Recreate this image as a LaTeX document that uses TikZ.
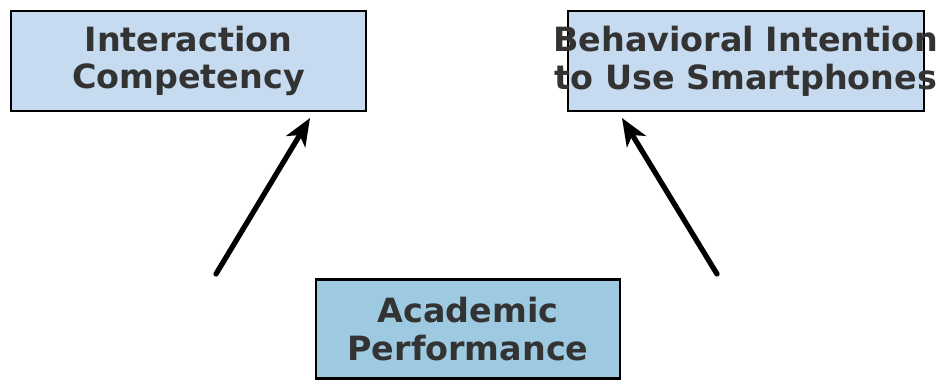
\documentclass[tikz,border=0pt]{standalone}
\usepackage{fontspec}
\setmainfont{DejaVu Sans}
\usepackage{xcolor}
\usetikzlibrary{arrows.meta,positioning}
\definecolor{ink}{HTML}{000000}
\definecolor{textgray}{HTML}{333333}
\definecolor{paleblue}{HTML}{C6DBEF}
\definecolor{midblue}{HTML}{9ECAE1}
\tikzset{
  factorbox/.style={draw=ink,fill=paleblue,line width=1.6pt,
                    minimum width=7.1cm,minimum height=2.0cm,
                    align=center,text=textgray,inner sep=0pt,
                    font=\fontsize{19}{21.5}\selectfont\bfseries},
  outcomebox/.style={factorbox,fill=midblue,minimum width=6.08cm},
  linkarr/.style={-{Stealth[length=5.5mm,width=4.4mm,inset=1.5mm]},
                  line width=3pt,color=ink,line cap=round}
}

\begin{document}
\begin{tikzpicture}[x=0.02cm,y=-0.02cm]
  \useasboundingbox (0,0) rectangle (938,381);
  \node[factorbox] (comp) at (188.5,61) {Interaction\\Competency};
  \node[factorbox,minimum width=7.12cm] (intent) at (746,61)
    {\makebox[0pt]{Behavioral Intention}\\\makebox[0pt]{to Use Smartphones}};
  \node[outcomebox,minimum height=1.99cm] (perf) at (468,329) {Academic\\Performance};

  % arrows stop short of the boxes
  \coordinate (compfoot) at (216,274);
  \coordinate (comptip) at (310,118);
  \coordinate (intentfoot) at (717,274);
  \coordinate (intenttip) at (622,118);
  \draw[linkarr] (compfoot) -- (comptip);
  \draw[linkarr] (intentfoot) -- (intenttip);
\end{tikzpicture}
\end{document}
